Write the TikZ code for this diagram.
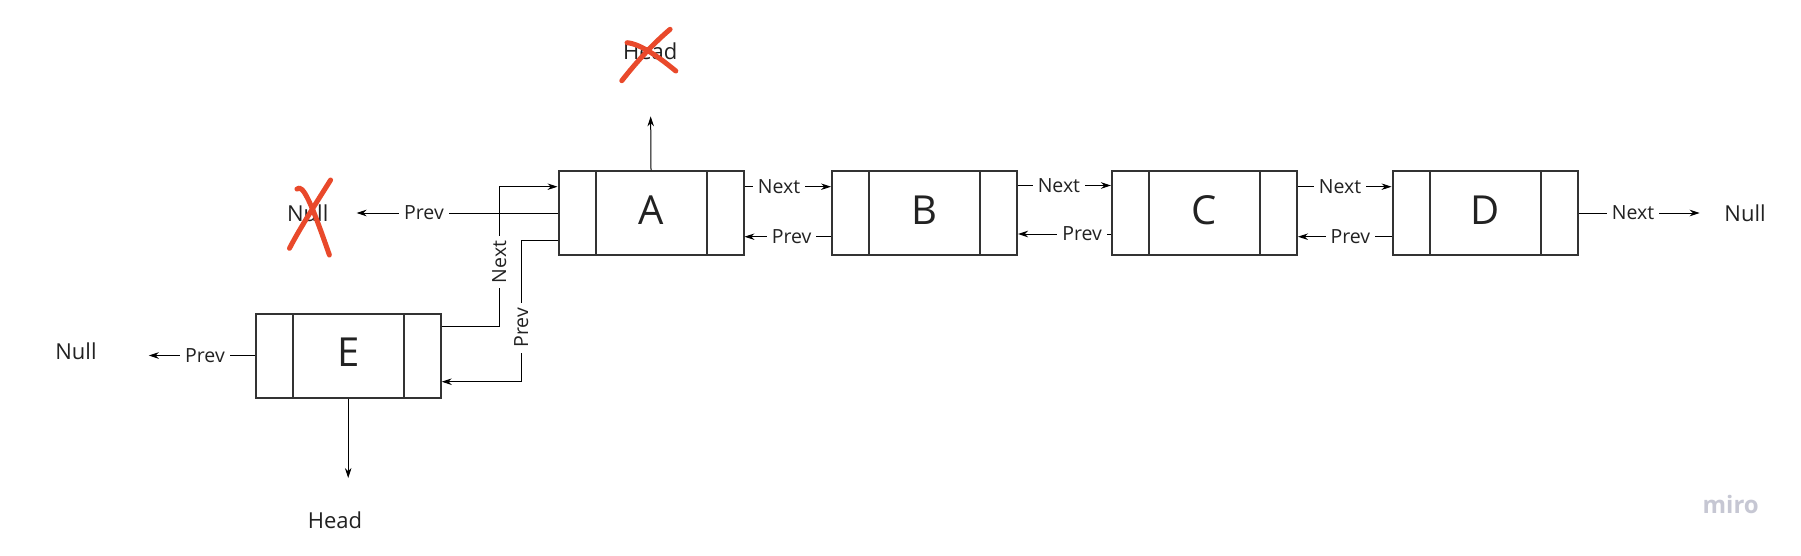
\documentclass[tikz,border=0pt]{standalone}
\usepackage{fontspec}
\setmainfont{Open Sans}
\usetikzlibrary{arrows.meta,calc}
\definecolor{boxc}{HTML}{333333}
\definecolor{txt}{HTML}{222222}
\definecolor{crossc}{HTML}{E9492B}
\definecolor{miroc}{HTML}{C6C7D3}
\begin{document}
\begin{tikzpicture}[x=1pt,y=-1pt,
  lnode/.style={draw=boxc, line width=2pt, minimum width=185pt, minimum height=84pt,
    inner sep=0pt, text=txt, text height=29pt, text depth=7pt,
    font=\fontsize{40}{40}\selectfont,
    path picture={
      \draw[boxc, line width=2pt] ([xshift=37pt]path picture bounding box.north west) -- ([xshift=37pt]path picture bounding box.south west);
      \draw[boxc, line width=2pt] ([xshift=-37pt]path picture bounding box.north east) -- ([xshift=-37pt]path picture bounding box.south east);
    }},
  lbl/.style={fill=white, inner xsep=5pt, inner ysep=1pt, text=txt, font=\fontsize{19.5}{20}\selectfont},
  conn/.style={line width=1pt, black, -{Stealth[length=10pt,width=6.5pt]}},
  term/.style={inner sep=0pt, text=txt, font=\fontsize{22}{22}\selectfont},
  xmark/.style={crossc, line width=5pt, line cap=round, line join=round},
  wmark/.style={inner sep=0pt, text=miroc, font=\fontsize{24}{24}\selectfont\bfseries}
]
\fill[white] (0,0) rectangle (1801,555);
\useasboundingbox (0,0) rectangle (1801,555);

% list nodes
\node[lnode] (A) at (651,213) {A};
\node[lnode] (B) at (924.5,213) {B};
\node[lnode] (C) at (1204.5,213) {C};
\node[lnode] (D) at (1485,213) {D};
\node[lnode] (E) at (348.2,355.5) {E};

% terminal texts
\node[term] (headA) at (650.3,51.7) {Head};
\node[term] (nullA) at (307.7,213.3) {Null};
\node[term] (nullD) at (1745,213.3) {Null};
\node[term] (nullE) at (76,351.7) {Null};
\node[term] (headE) at (335,520) {Head};
\node[wmark] (miro) at (1730.7,504.3) {miro};

% main chain
\draw[conn] ([yshift=26.3pt]A.east) -- node[lbl,pos=0.40]{Next} ([yshift=26.3pt]B.west);
\draw[conn] ([yshift=-23.7pt]B.west) -- node[lbl,pos=0.455]{Prev} ([yshift=-23.7pt]A.east);
\draw[conn] ([yshift=27.5pt]B.east) -- node[lbl,pos=0.44]{Next} ([yshift=27.5pt]C.west);
\draw[conn] ([yshift=-21pt]C.west) -- node[lbl,pos=0.31]{Prev} ([yshift=-21pt]B.east);
\draw[conn] ([yshift=26.3pt]C.east) -- node[lbl,pos=0.45]{Next} ([yshift=26.3pt]D.west);
\draw[conn] ([yshift=-23.7pt]D.west) -- node[lbl,pos=0.44]{Prev} ([yshift=-23.7pt]C.east);
\draw[conn, shorten >=24.5pt] (D.east) -- node[lbl,pos=0.375]{Next} (D.east -| nullD.west);

% A to old Null and old Head
\draw[conn, shorten >=28pt] (A.west) -- node[lbl,pos=0.583]{Prev} (A.west -| nullA.east);
\draw[conn, shorten >=56pt] (A.north) -- (headA.south);

% E links
\draw[conn] ([yshift=29.5pt]E.east) -- ++(57.6,0) |- node[lbl,rotate=90,pos=0.23]{Next} ([yshift=26.3pt]A.west);
\draw[conn] ([yshift=-27pt]A.west) -- ++(-36.3,0) |- node[lbl,rotate=90,pos=0.31]{Prev} ([yshift=-26.2pt]E.east);
\draw[conn, shorten >=52pt] (E.west) -- node[lbl,pos=0.315]{Prev} (E.west -| nullE.east);
\draw[conn, shorten >=33.3pt] (E.south) -- (E.south |- headE.north);

% red crosses
\draw[xmark] (621.8,80.7) .. controls (638,60) and (655,42) .. (670.1,29.3);
\draw[xmark] (627.1,42.7) .. controls (641,44) and (660,58) .. (675.8,71);
\draw[xmark] (297,189) .. controls (303,183) and (312,205) .. (329.4,255);
\draw[xmark] (330.6,180) .. controls (318,200) and (300,228) .. (289.5,248.3);
\end{tikzpicture}
\end{document}
